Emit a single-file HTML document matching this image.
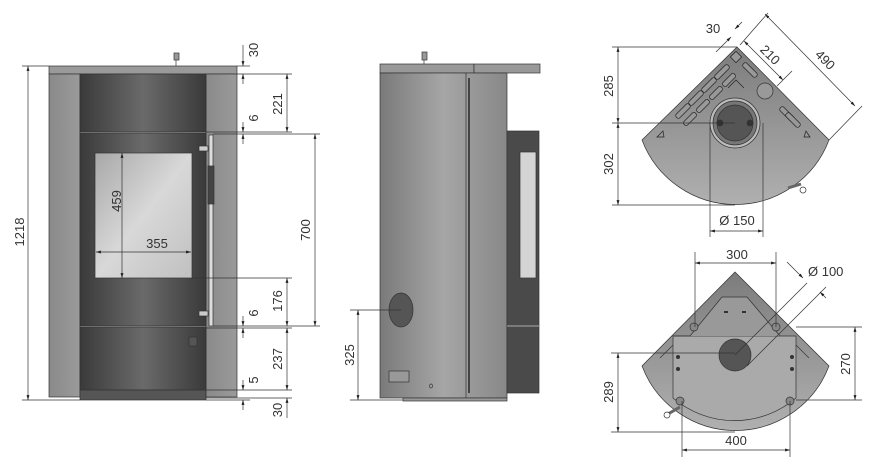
<!DOCTYPE html>
<html><head><meta charset="utf-8"><style>
html,body{margin:0;padding:0;background:#fff;}
svg{display:block;}
text{font-family:"Liberation Sans",sans-serif;font-size:13px;fill:#333;}
</style></head><body>
<svg width="888" height="475" viewBox="0 0 888 475" xmlns="http://www.w3.org/2000/svg">
<defs>
<marker id="a" viewBox="0 0 10 10" refX="10" refY="5" markerWidth="7" markerHeight="7" orient="auto-start-reverse"><path d="M0,2 L10,5 L0,8 z" fill="#222"/></marker>
<linearGradient id="dk" x1="0" x2="1"><stop offset="0" stop-color="#3a3a3a"/><stop offset="0.5" stop-color="#6a6a6a"/><stop offset="1" stop-color="#3a3a3a"/></linearGradient>
<linearGradient id="lt" x1="0" x2="1"><stop offset="0" stop-color="#8a8a8a"/><stop offset="1" stop-color="#9a9a9a"/></linearGradient>
<linearGradient id="gl" x1="0" x2="1" y1="0" y2="1"><stop offset="0" stop-color="#a8a8a8"/><stop offset="0.5" stop-color="#d8d8d8"/><stop offset="1" stop-color="#c0c0c0"/></linearGradient>
<linearGradient id="sd" x1="0" x2="1"><stop offset="0" stop-color="#7a7a7a"/><stop offset="0.5" stop-color="#a6a6a6"/><stop offset="1" stop-color="#888"/></linearGradient>
<linearGradient id="pl" x1="0" x2="0" y1="0" y2="1"><stop offset="0" stop-color="#7c7c7c"/><stop offset="1" stop-color="#b0b0b0"/></linearGradient>
</defs>
<g stroke="#333" stroke-width="0.7" fill="none">
<!-- FRONT VIEW -->
<rect x="49" y="66" width="188" height="8" fill="#9a9a9a"/>
<rect x="174" y="53" width="5" height="7" fill="#999"/><line x1="176" y1="60" x2="176" y2="66"/>
<rect x="49" y="74" width="31" height="323" fill="url(#lt)"/>
<rect x="206" y="74" width="31" height="323" fill="url(#lt)"/>
<rect x="80" y="74" width="126" height="58" fill="url(#dk)"/>
<rect x="80" y="133" width="126" height="193" fill="url(#dk)"/>
<rect x="95" y="153" width="97" height="125" fill="url(#gl)"/>
<rect x="80" y="327" width="126" height="63" fill="url(#dk)"/>
<rect x="80" y="390" width="126" height="10" fill="#555"/>
<rect x="209" y="135" width="4" height="191" fill="#ddd"/>
<rect x="208" y="166" width="6" height="38" fill="#444"/>
<rect x="199" y="146" width="9" height="5" fill="#ccc"/><rect x="199" y="311" width="9" height="5" fill="#ccc"/>
<rect x="189" y="337" width="8" height="9" fill="#555"/>
<!-- front dims -->
<line x1="28" y1="66" x2="28" y2="400" marker-start="url(#a)" marker-end="url(#a)"/>
<line x1="22" y1="66" x2="49" y2="66"/><line x1="22" y1="400" x2="80" y2="400"/>
<line x1="122" y1="153" x2="122" y2="278" marker-start="url(#a)" marker-end="url(#a)"/>
<line x1="96" y1="252" x2="191" y2="252" marker-start="url(#a)" marker-end="url(#a)"/>
<line x1="237" y1="66" x2="250" y2="66"/><line x1="237" y1="74" x2="292" y2="74"/>
<line x1="206" y1="132" x2="292" y2="132"/><line x1="213" y1="134" x2="320" y2="134"/>
<line x1="192" y1="278" x2="292" y2="278"/><line x1="213" y1="326" x2="320" y2="326"/>
<line x1="206" y1="328" x2="292" y2="328"/><line x1="206" y1="390" x2="292" y2="390"/>
<line x1="206" y1="398" x2="292" y2="398"/><line x1="206" y1="400" x2="250" y2="400"/>
<line x1="243" y1="45" x2="243" y2="66" marker-end="url(#a)"/>
<line x1="243" y1="74" x2="243" y2="84" marker-start="url(#a)"/>
<line x1="243" y1="122" x2="243" y2="132" marker-end="url(#a)"/>
<line x1="243" y1="134" x2="243" y2="144" marker-start="url(#a)"/>
<line x1="243" y1="316" x2="243" y2="326" marker-end="url(#a)"/>
<line x1="243" y1="328" x2="243" y2="338" marker-start="url(#a)"/>
<line x1="243" y1="380" x2="243" y2="390" marker-end="url(#a)"/>
<line x1="243" y1="400" x2="243" y2="410" marker-start="url(#a)"/>
<line x1="287" y1="74" x2="287" y2="132" marker-start="url(#a)" marker-end="url(#a)"/>
<line x1="315" y1="134" x2="315" y2="326" marker-start="url(#a)" marker-end="url(#a)"/>
<line x1="287" y1="278" x2="287" y2="326" marker-start="url(#a)" marker-end="url(#a)"/>
<line x1="287" y1="328" x2="287" y2="390" marker-start="url(#a)" marker-end="url(#a)"/>
<line x1="287" y1="398" x2="287" y2="418" marker-start="url(#a)"/>
<!-- SIDE VIEW -->
<rect x="380" y="64" width="94" height="9" fill="#999"/>
<rect x="474" y="64" width="66" height="9" fill="#999"/>
<rect x="422" y="52" width="5" height="8" fill="#999"/><line x1="424" y1="60" x2="424" y2="64"/>
<rect x="380" y="73" width="127" height="325" fill="url(#sd)"/>
<line x1="466" y1="73" x2="466" y2="398"/><line x1="469" y1="78" x2="469" y2="393" stroke="#444" stroke-width="2"/>
<rect x="507" y="131" width="32" height="262" fill="#4a4a4a"/>
<rect x="520" y="152" width="16" height="126" fill="#d4d4d4"/>
<line x1="507" y1="326" x2="539" y2="326" stroke="#ccc"/>
<ellipse cx="401" cy="310" rx="12" ry="17" fill="#555"/>
<rect x="389" y="371" width="20" height="11" fill="#999"/>
<ellipse cx="431" cy="386" rx="1.5" ry="2"/>
<rect x="403" y="398" width="104" height="3" fill="#999"/>
<line x1="350" y1="310" x2="401" y2="310"/><line x1="350" y1="400" x2="403" y2="400"/>
<line x1="358" y1="310" x2="358" y2="400" marker-start="url(#a)" marker-end="url(#a)"/>
<!-- TOP PLAN -->
<path d="M737,47 L829,140 A100,100 0 0 1 642,140 Z" fill="url(#pl)"/>
<circle cx="735" cy="123" r="25" fill="#bbb"/><circle cx="735" cy="123" r="22" fill="#777"/><circle cx="735" cy="123" r="18" fill="#555"/>
<circle cx="720" cy="123" r="3" fill="#333"/><circle cx="750" cy="123" r="3" fill="#333"/>
<circle cx="765" cy="91" r="8" fill="#999"/>
<g fill="#999" stroke="#222">
<rect x="-4" y="-4" width="8" height="8" transform="translate(736,57) rotate(45)"/>
<rect x="-9" y="-2.5" width="18" height="5" rx="2" transform="translate(722,72) rotate(-45)"/>
<rect x="-9" y="-2.5" width="18" height="5" rx="2" transform="translate(709,85) rotate(-45)"/>
<rect x="-9" y="-2.5" width="18" height="5" rx="2" transform="translate(696,98) rotate(-45)"/>
<rect x="-9" y="-2.5" width="18" height="5" rx="2" transform="translate(683,111) rotate(-45)"/>
<rect x="-8" y="-2.5" width="16" height="5" rx="2" transform="translate(729,80) rotate(-45)"/>
<rect x="-8" y="-2.5" width="16" height="5" rx="2" transform="translate(716,93) rotate(-45)"/>
<rect x="-8" y="-2.5" width="16" height="5" rx="2" transform="translate(703,106) rotate(-45)"/>
<rect x="-8" y="-2.5" width="16" height="5" rx="2" transform="translate(690,119) rotate(-45)"/>
<rect x="-9" y="-2.5" width="18" height="5" rx="2" transform="translate(750,70) rotate(45)"/>
<rect x="-9" y="-2.5" width="18" height="5" rx="2" transform="translate(787,114) rotate(45)"/>
<rect x="-9" y="-2.5" width="18" height="5" rx="2" transform="translate(793,120) rotate(45)"/>
<path d="M728,88 L736,80 L744,88" fill="none"/>
<path d="M657,137 L663,131 L664,137 Z"/><path d="M810,137 L806,131 L804,137 Z"/>
</g>
<line x1="788" y1="188" x2="801" y2="184" stroke-width="3" stroke="#666"/><circle cx="803" cy="190" r="3" fill="#fff"/>
<!-- top dims -->
<line x1="612" y1="47" x2="737" y2="47"/><line x1="612" y1="123" x2="735" y2="123"/><line x1="612" y1="205" x2="735" y2="205"/>
<line x1="618" y1="47" x2="618" y2="123" marker-start="url(#a)" marker-end="url(#a)"/>
<line x1="618" y1="123" x2="618" y2="205" marker-start="url(#a)" marker-end="url(#a)"/>
<line x1="710" y1="123" x2="710" y2="237"/><line x1="763" y1="123" x2="763" y2="237"/>
<line x1="710" y1="231" x2="763" y2="231" marker-start="url(#a)" marker-end="url(#a)"/>
<line x1="765" y1="14" x2="855" y2="106" marker-start="url(#a)" marker-end="url(#a)"/>
<line x1="740" y1="45" x2="768" y2="13"/><line x1="829" y1="140" x2="862" y2="106"/>
<line x1="744" y1="41" x2="783" y2="80" marker-start="url(#a)" marker-end="url(#a)"/>
<line x1="777" y1="86" x2="792" y2="71"/>
<line x1="716" y1="52" x2="731" y2="37" marker-end="url(#a)"/><line x1="742" y1="22" x2="735" y2="29" marker-end="url(#a)"/>
<!-- BOTTOM PLAN -->
<path d="M735,272 L829,366 A100,100 0 0 1 642,366 Z" fill="url(#pl)"/>
<path d="M673,336 L796,336 L796,398 A95,95 0 0 1 673,398 Z" fill="#aaa"/>
<path d="M673,336 L690,336 L722,297 L747,297 L780,336" fill="#999"/>
<path d="M660,358 L673,345 M809,358 L796,345"/>
<circle cx="735" cy="355" r="16" fill="#555"/>
<g fill="#888"><circle cx="694" cy="327" r="4"/><circle cx="776" cy="327" r="4"/><circle cx="680" cy="401" r="4"/><circle cx="790" cy="401" r="4"/></g>
<g fill="#333" stroke="none"><circle cx="678" cy="357" r="2"/><circle cx="678" cy="369" r="2"/><circle cx="792" cy="357" r="2"/><circle cx="792" cy="369" r="2"/><rect x="724" y="311" width="4" height="2"/><rect x="742" y="311" width="4" height="2"/></g>
<line x1="668" y1="414" x2="680" y2="407" stroke-width="3" stroke="#666"/><circle cx="667" cy="415" r="3" fill="#fff"/>
<!-- bottom dims -->
<line x1="695" y1="252" x2="695" y2="327"/><line x1="776" y1="252" x2="776" y2="327"/>
<line x1="695" y1="263" x2="776" y2="263" marker-start="url(#a)" marker-end="url(#a)"/>
<line x1="735" y1="355" x2="807" y2="283"/><line x1="747" y1="366" x2="826" y2="287"/>
<line x1="787" y1="262" x2="803" y2="278" marker-end="url(#a)"/><line x1="826" y1="298" x2="820" y2="292" marker-end="url(#a)"/>
<line x1="611" y1="353" x2="735" y2="353"/><line x1="611" y1="432" x2="735" y2="432"/>
<line x1="618" y1="353" x2="618" y2="432" marker-start="url(#a)" marker-end="url(#a)"/>
<line x1="796" y1="327" x2="862" y2="327"/><line x1="796" y1="400" x2="862" y2="400"/>
<line x1="855" y1="327" x2="855" y2="400" marker-start="url(#a)" marker-end="url(#a)"/>
<line x1="682" y1="401" x2="682" y2="457"/><line x1="790" y1="401" x2="790" y2="457"/>
<line x1="682" y1="450" x2="790" y2="450" marker-start="url(#a)" marker-end="url(#a)"/>
</g>
<!-- labels -->
<text transform="translate(24,232) rotate(-90)" text-anchor="middle">1218</text>
<text transform="translate(121,201) rotate(-90)" text-anchor="middle">459</text>
<text x="157" y="248" text-anchor="middle">355</text>
<text transform="translate(258,50) rotate(-90)" text-anchor="middle">30</text>
<text transform="translate(282,104) rotate(-90)" text-anchor="middle">221</text>
<text transform="translate(258,118) rotate(-90)" text-anchor="middle">6</text>
<text transform="translate(310,230) rotate(-90)" text-anchor="middle">700</text>
<text transform="translate(282,301) rotate(-90)" text-anchor="middle">176</text>
<text transform="translate(258,313) rotate(-90)" text-anchor="middle">6</text>
<text transform="translate(282,359) rotate(-90)" text-anchor="middle">237</text>
<text transform="translate(258,380) rotate(-90)" text-anchor="middle">5</text>
<text transform="translate(282,410) rotate(-90)" text-anchor="middle">30</text>
<text transform="translate(354,355) rotate(-90)" text-anchor="middle">325</text>
<text transform="translate(613,86) rotate(-90)" text-anchor="middle">285</text>
<text transform="translate(613,164) rotate(-90)" text-anchor="middle">302</text>
<text x="737" y="225" text-anchor="middle">Ø 150</text>
<text x="713" y="33" text-anchor="middle">30</text>
<text transform="translate(767,58) rotate(45)" text-anchor="middle">210</text>
<text transform="translate(822,63) rotate(45)" text-anchor="middle">490</text>
<text x="737" y="259" text-anchor="middle">300</text>
<text x="808" y="276">Ø 100</text>
<text transform="translate(850,364) rotate(-90)" text-anchor="middle">270</text>
<text transform="translate(613,392) rotate(-90)" text-anchor="middle">289</text>
<text x="736" y="445" text-anchor="middle">400</text>
</svg>
</body></html>
